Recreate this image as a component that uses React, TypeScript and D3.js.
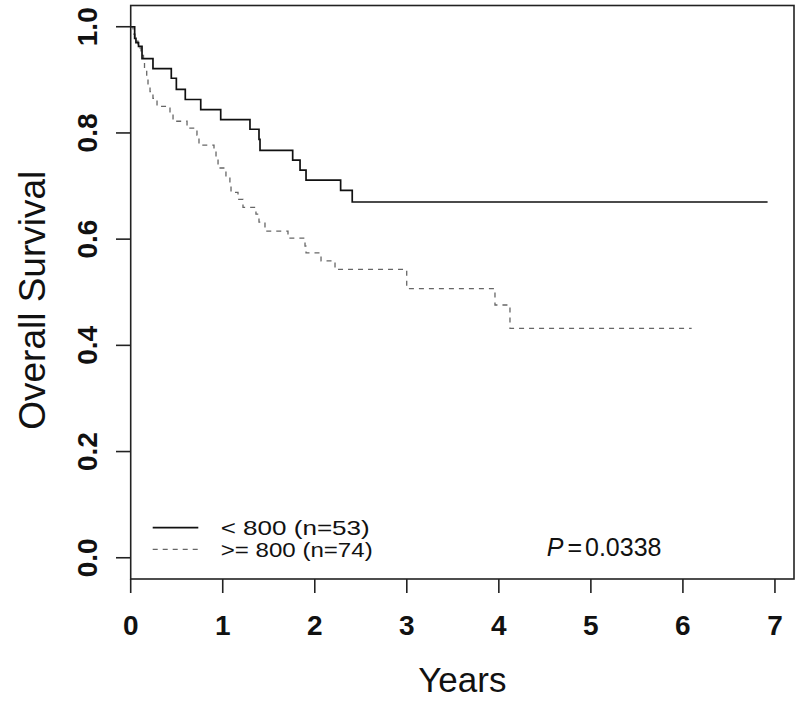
import React from "react";
import * as d3 from "d3";

const xTicks = [0, 1, 2, 3, 4, 5, 6, 7];
const yTicks = [0, 0.2, 0.4, 0.6, 0.8, 1.0];

const lowTimes = [0, 0.043, 0.057, 0.085, 0.123, 0.242, 0.441, 0.496, 0.593, 0.761, 0.978, 1.296, 1.394, 1.405, 1.76, 1.84, 1.905, 2.281, 2.407, 6.92];
const lowSurv = [1, 0.978, 0.970, 0.963, 0.940, 0.921, 0.903, 0.882, 0.863, 0.844, 0.825, 0.807, 0.788, 0.767, 0.749, 0.730, 0.711, 0.692, 0.670, 0.670];

const highTimes = [0, 0.025, 0.047, 0.079, 0.112, 0.139, 0.150, 0.174, 0.188, 0.210, 0.242, 0.286, 0.427, 0.460, 0.612, 0.720, 0.742, 0.905, 0.927, 0.949, 1.035, 1.078, 1.090, 1.166, 1.220, 1.361, 1.394, 1.459, 1.709, 1.894, 1.905, 2.068, 2.220, 2.999, 3.958, 4.121, 6.095];
const highSurv = [1, 0.986, 0.973, 0.960, 0.946, 0.933, 0.918, 0.904, 0.891, 0.878, 0.865, 0.850, 0.837, 0.822, 0.809, 0.796, 0.777, 0.764, 0.749, 0.734, 0.718, 0.703, 0.688, 0.675, 0.660, 0.647, 0.632, 0.615, 0.602, 0.587, 0.574, 0.559, 0.543, 0.507, 0.476, 0.432, 0.432];

const seriesLabels = ["< 800 (n=53)", ">= 800 (n=74)"];
const pLabel = "0.0338";

export default function App() {
  const left = 130.7, right = 794, top = 5.5, bottom = 579;
  const x = d3.scaleLinear().domain([0, 7.207]).range([left, right]);
  const y = d3.scaleLinear().domain([-0.04, 1.04]).range([bottom, top]);
  const line = d3
    .line<[number, number]>()
    .x((d) => x(d[0]))
    .y((d) => y(d[1]))
    .curve(d3.curveStepAfter);
  const lowPts = lowTimes.map((t, i) => [t, lowSurv[i]] as [number, number]);
  const highPts = highTimes.map((t, i) => [t, highSurv[i]] as [number, number]);
  const font = "'Liberation Sans', Arial, Helvetica, sans-serif";
  const legY1 = 527.7, legY2 = 549.3;

  return (
    <svg
      width={800}
      height={705}
      style={{ position: "absolute", left: 0, top: 0, background: "#fff" }}
      fontFamily={font}
    >
      <rect x={0} y={0} width={800} height={705} fill="#fff" />
      {/* curves */}
      <path d={line(highPts) || ""} fill="none" stroke="#666" strokeWidth={1.3} strokeDasharray="5,5" />
      <path d={line(lowPts) || ""} fill="none" stroke="#111" strokeWidth={1.7} />
      {/* box */}
      <rect x={left} y={top} width={right - left} height={bottom - top} fill="none" stroke="#222" strokeWidth={1.6} />
      {/* x axis */}
      {xTicks.map((t) => (
        <g key={"x" + t}>
          <line x1={x(t)} x2={x(t)} y1={bottom} y2={593} stroke="#222" strokeWidth={1.6} />
          <text x={x(t)} y={635} textAnchor="middle" fontSize={28} fontWeight="bold" fill="#111">
            {t}
          </text>
        </g>
      ))}
      {/* y axis */}
      {yTicks.map((t) => (
        <g key={"y" + t}>
          <line x1={116} x2={left} y1={y(t)} y2={y(t)} stroke="#222" strokeWidth={1.6} />
          <text
            transform={`translate(97,${y(t)}) rotate(-90)`}
            textAnchor="middle"
            fontSize={28}
            fontWeight="bold"
            fill="#111"
          >
            {t.toFixed(1)}
          </text>
        </g>
      ))}
      <text x={(left + right) / 2} y={692} textAnchor="middle" fontSize={35} fill="#111">
        Years
      </text>
      <text
        transform={`translate(45,${(top + bottom) / 2 + 8}) rotate(-90)`}
        textAnchor="middle"
        fontSize={37}
        fill="#111"
      >
        Overall Survival
      </text>
      {/* legend */}
      <line x1={152.7} x2={198.3} y1={legY1} y2={legY1} stroke="#111" strokeWidth={1.7} />
      <line x1={152.7} x2={198.3} y1={legY2} y2={legY2} stroke="#666" strokeWidth={1.3} strokeDasharray="5,5" />
      <text x={220.7} y={legY1} dy="0.36em" fontSize={21} textLength={149} lengthAdjust="spacingAndGlyphs" fill="#111">
        {seriesLabels[0]}
      </text>
      <text x={220.7} y={legY2} dy="0.36em" fontSize={21} textLength={152} lengthAdjust="spacingAndGlyphs" fill="#111">
        {seriesLabels[1]}
      </text>
      <text x={546.7} y={556} fontSize={25} fill="#111">
        <tspan fontStyle="italic">P</tspan>
        <tspan dx={4}>=</tspan>
        <tspan dx={3}>{pLabel}</tspan>
      </text>
    </svg>
  );
}
